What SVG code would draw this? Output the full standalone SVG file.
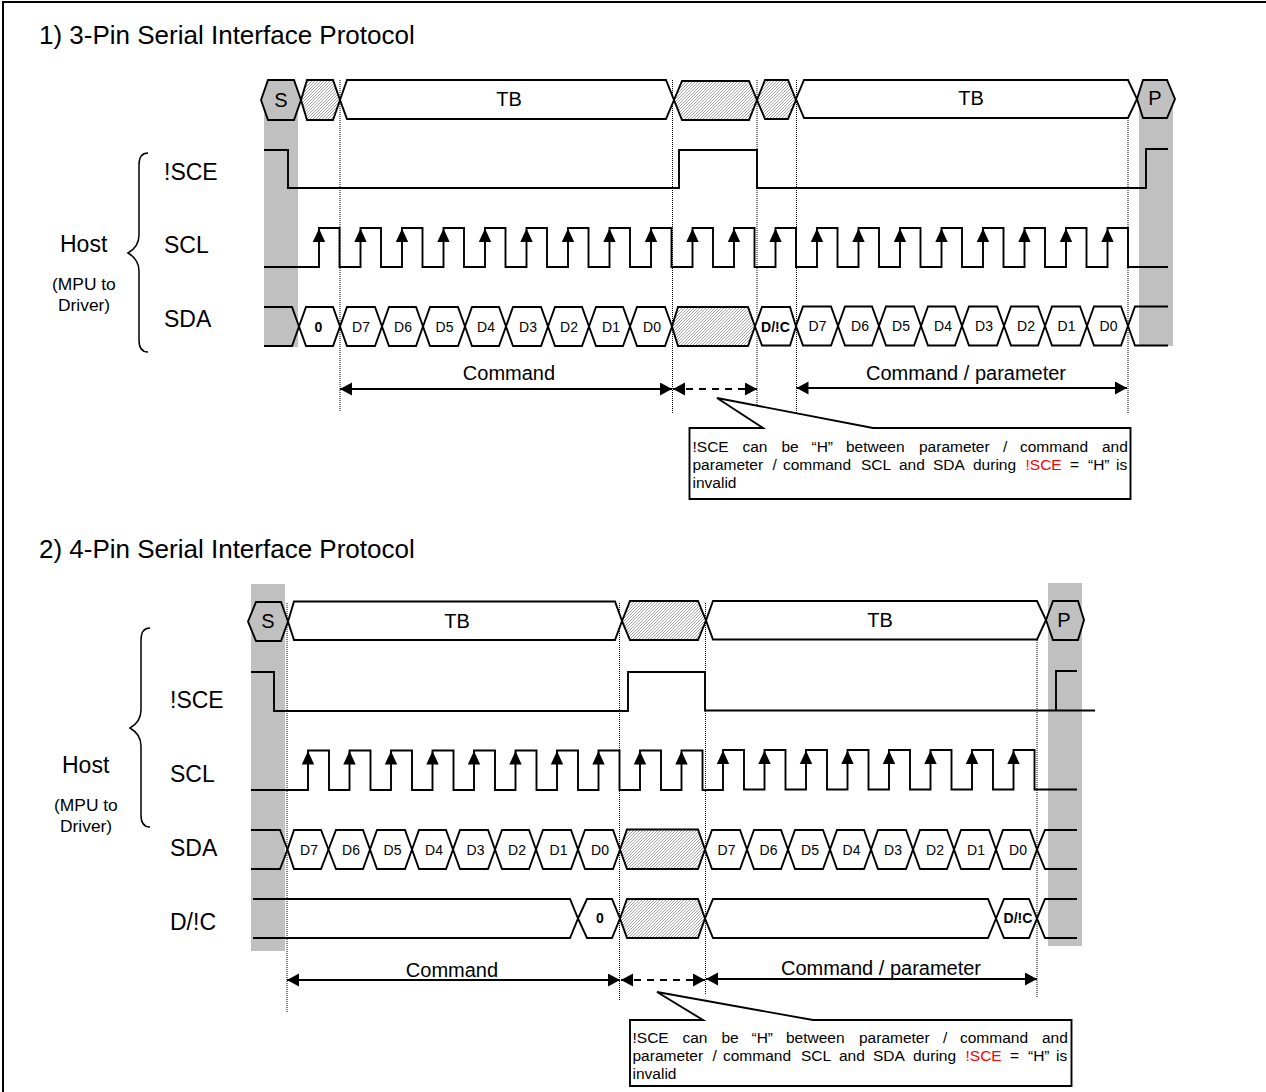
<svg xmlns="http://www.w3.org/2000/svg" xmlns:xlink="http://www.w3.org/1999/xlink" width="1266" height="1092" viewBox="0 0 1266 1092">
<style>
text{font-family:"Liberation Sans",Arial,sans-serif;fill:#000}
.t{font-size:26px}.l{font-size:23px}.m{font-size:20px}.c{font-size:20px}.s{font-size:17.4px}
.d{font-size:14px;text-anchor:middle}.b{font-weight:bold}.mid{text-anchor:middle}
.n{font-size:15.5px}.r{fill:#f00}
.w{fill:#fff;stroke:#000;stroke-width:1.9;stroke-linejoin:miter}
.h{fill:url(#hatch);stroke:#000;stroke-width:1.9}
.g{fill:#c0c0c0;stroke:#000;stroke-width:1.9}
.o{fill:none;stroke:#000;stroke-width:1.9}
.band{fill:#c0c0c0}
.dot{fill:none;stroke:#000;stroke-width:1;stroke-dasharray:1 1}
.arr{fill:none;stroke:#000;stroke-width:1.9;marker-start:url(#ah);marker-end:url(#ah)}
.dash{stroke-dasharray:7 6}
</style>
<defs>
<pattern id="hatch" patternUnits="userSpaceOnUse" width="3" height="3">
<rect width="3" height="3" fill="#fff"/>
<path d="M-1 1L1 -1M0 3L3 0M2 4L4 2" stroke="#a0a0a0" stroke-width="1"/>
</pattern>
<marker id="ah" markerUnits="userSpaceOnUse" markerWidth="13" markerHeight="14" refX="12" refY="6.5" orient="auto-start-reverse">
<path d="M0 0L12 6.5L0 13Z" fill="#000"/>
</marker>
<path id="up" d="M0 0L6.2 13.500H-6.200Z" fill="#000"/>
</defs>
<path id="frame" d="M3 1092V2H1266" fill="none" stroke="#000" stroke-width="2"/>

<g id="bands">
<rect class="band" x="264" y="100" width="34" height="247"/>
<rect class="band" x="1139" y="100" width="34" height="246"/>
<rect class="band" x="251" y="584" width="34" height="367"/>
<rect class="band" x="1048" y="583" width="34" height="363"/>
</g>

<g id="connectors">
<path class="dot" d="M340 80V412M672.500 80V413M757 80V410M796.500 80V413M1128 80V413"/>
<path class="dot" d="M287 603V1012M619.500 603V1000M705.500 603V994M1037 600V998"/>
<line class="arr" x1="340" y1="389" x2="672" y2="389"/>
<line class="arr dash" x1="673" y1="389" x2="757" y2="389"/>
<line class="arr" x1="796.500" y1="388" x2="1127" y2="388"/>
<line class="arr" x1="287" y1="980" x2="620" y2="980"/>
<line class="arr dash" x1="621" y1="980" x2="705" y2="980"/>
<line class="arr" x1="706" y1="979" x2="1037" y2="979"/>
</g>

<g id="title-1"><text class="t" x="39" y="44">1) 3-Pin Serial Interface Protocol</text></g>
<g id="title-2"><text class="t" x="39" y="558">2) 4-Pin Serial Interface Protocol</text></g>

<g id="host-1">
<path class="o" style="stroke-width:1.5" d="M148 153C142 153 139 157 139 165V235C139 244 135 249 128 253C135 257 139 262 139 271V340C139 348 142 352 148 352"/>
<text class="l" x="60" y="252">Host</text>
<text class="s" x="52" y="290">(MPU to</text>
<text class="s" x="58" y="311">Driver)</text>
<text class="l" x="164" y="180">!SCE</text>
<text class="l" x="164" y="253">SCL</text>
<text class="l" x="164" y="327">SDA</text>
</g>
<g id="host-2">
<path class="o" style="stroke-width:1.5" d="M150 628C144 628 141 632 141 640V710C141 719 137 724 130 728C137 732 141 737 141 746V815C141 823 144 827 150 827"/>
<text class="l" x="62" y="773">Host</text>
<text class="s" x="54" y="811">(MPU to</text>
<text class="s" x="60" y="832">Driver)</text>
<text class="l" x="170" y="708">!SCE</text>
<text class="l" x="170" y="782">SCL</text>
<text class="l" x="170" y="856">SDA</text>
<text class="l" x="170" y="930">D/!C</text>
</g>

<g id="bus-1">
<path class="g" d="M261 100L268 80H294L301 100L294 120H268Z"/>
<path class="h" d="M301 100L307 80H333L340 100L333 120H307Z"/>
<path class="w" d="M340 100L347 80H666L674 100L666 119H347Z"/>
<path class="h" d="M674 100L682 81H749L757 100L749 120H682Z"/>
<path class="h" d="M757 100L765 80H788L796 100L788 119H765Z"/>
<path class="w" d="M796 99L804 80H1128L1137 99L1128 118H804Z"/>
<path class="g" d="M1137 99L1143 80H1167L1175 99L1167 118H1143Z"/>
<text class="m mid" x="281" y="107">S</text>
<text class="m mid" x="509" y="106">TB</text>
<text class="m mid" x="971" y="105">TB</text>
<text class="m mid" x="1155" y="105">P</text>
</g>
<g id="sce-1">
<path class="o" d="M264 150H288V188H679V150H757V188H1146V149H1168"/>
</g>
<g id="scl-1">
<path class="o" d="M264 267H319V228H339.500V267H360.500V228H381V267H402V228H422.500V267H443.500V228H464V267H485V228H505.500V267H526.500V228H547V267H568V228H588.500V267H609.500V228H630V267H651V228H671.500V267H692.500V228H713V267H734V228H754.500V267H775.500V228H796V267H817V228H837.500V267H858.500V228H879V267H900V228H920.500V267H941.500V228H962V267H983V228H1003.500V267H1024.500V228H1045V267H1066V228H1086.500V267H1107.500V228H1128V267H1168"/>
<use xlink:href="#up" x="319" y="228.500"/><use xlink:href="#up" x="360.500" y="228.500"/><use xlink:href="#up" x="402" y="228.500"/><use xlink:href="#up" x="443.500" y="228.500"/><use xlink:href="#up" x="485" y="228.500"/><use xlink:href="#up" x="526.500" y="228.500"/><use xlink:href="#up" x="568" y="228.500"/><use xlink:href="#up" x="609.500" y="228.500"/><use xlink:href="#up" x="651" y="228.500"/><use xlink:href="#up" x="692.500" y="228.500"/><use xlink:href="#up" x="734" y="228.500"/><use xlink:href="#up" x="775.500" y="228.500"/><use xlink:href="#up" x="817" y="228.500"/><use xlink:href="#up" x="858.500" y="228.500"/><use xlink:href="#up" x="900" y="228.500"/><use xlink:href="#up" x="941.500" y="228.500"/><use xlink:href="#up" x="983" y="228.500"/><use xlink:href="#up" x="1024.500" y="228.500"/><use xlink:href="#up" x="1066" y="228.500"/><use xlink:href="#up" x="1107.500" y="228.500"/>
</g>
<g id="sda-1">
<path class="o" d="M264 307H292L299 326.500L292 346H264"/>
<path class="w" d="M299 326.500L306 307H333L340 326.500L333 346H306Z"/>
<path class="w" d="M340 326.500L347 307H375L382 326.500L375 346H347Z"/>
<path class="w" d="M382 326.500L389 307H416L423 326.500L416 346H389Z"/>
<path class="w" d="M423 326.500L430 307H458L465 326.500L458 346H430Z"/>
<path class="w" d="M465 326.500L472 307H499L506 326.500L499 346H472Z"/>
<path class="w" d="M506 326.500L513 307H541L548 326.500L541 346H513Z"/>
<path class="w" d="M548 326.500L555 307H582L589 326.500L582 346H555Z"/>
<path class="w" d="M589 326.500L596 307H623L630 326.500L623 346H596Z"/>
<path class="w" d="M630 326.500L637 307H665L672 326.500L665 346H637Z"/>
<path class="h" d="M672 326.500L678 307H748L755 326.500L748 346H678Z"/>
<path class="w" d="M755 326.500L762 307H790L796 326.500L790 345.500H762Z"/>
<path class="w" d="M796 326L803 306.500H831L838 326L831 345.500H803Z"/>
<path class="w" d="M838 326L845 306.500H872L879 326L872 345.500H845Z"/>
<path class="w" d="M879 326L886 306.500H914L921 326L914 345.500H886Z"/>
<path class="w" d="M921 326L928 306.500H955L962 326L955 345.500H928Z"/>
<path class="w" d="M962 326L969 306.500H997L1004 326L997 345.500H969Z"/>
<path class="w" d="M1004 326L1011 306.500H1038L1045 326L1038 345.500H1011Z"/>
<path class="w" d="M1045 326L1052 306.500H1080L1087 326L1080 345.500H1052Z"/>
<path class="w" d="M1087 326L1094 306.500H1121L1128 326L1121 345.500H1094Z"/>
<path class="o" d="M1168 306.500H1135L1128 326L1135 345.500H1168"/>
<text class="d b" x="318.500" y="332">0</text>
<text class="d" x="361" y="332">D7</text><text class="d" x="403" y="332">D6</text><text class="d" x="444.500" y="332">D5</text><text class="d" x="486" y="332">D4</text><text class="d" x="528" y="332">D3</text><text class="d" x="569" y="332">D2</text><text class="d" x="611" y="332">D1</text><text class="d" x="652" y="332">D0</text>
<text class="d b" x="775.500" y="332">D/!C</text>
<text class="d" x="817.500" y="331">D7</text><text class="d" x="860" y="331">D6</text><text class="d" x="901" y="331">D5</text><text class="d" x="943" y="331">D4</text><text class="d" x="984" y="331">D3</text><text class="d" x="1026" y="331">D2</text><text class="d" x="1066.500" y="331">D1</text><text class="d" x="1108.500" y="331">D0</text>
</g>
<g id="labels-1">
<text class="c mid" x="509" y="380">Command</text>
<text class="c mid" x="966" y="380">Command / parameter</text>
</g>
<g id="note-1">
<path class="w" d="M689.500 428H763L717 398L873 428H1130.500V499H689.500Z"/>
<text class="n" y="452"><tspan x="692.500">!SCE</tspan><tspan x="742.500">can</tspan><tspan x="781.500">be</tspan><tspan x="811.500">“H”</tspan><tspan x="846">between</tspan><tspan x="919">parameter</tspan><tspan x="1003">/</tspan><tspan x="1020">command</tspan><tspan x="1102">and</tspan></text>
<text class="n" y="470"><tspan x="692.500">parameter</tspan><tspan x="772.500">/</tspan><tspan x="783">command</tspan><tspan x="861">SCL</tspan><tspan x="899">and</tspan><tspan x="933">SDA</tspan><tspan x="973">during</tspan><tspan class="r" x="1025.500">!SCE</tspan><tspan x="1070">=</tspan><tspan x="1088">“H”</tspan><tspan x="1116">is</tspan></text>
<text class="n" x="692.500" y="488">invalid</text>
</g>

<g id="bus-2">
<path class="g" d="M248 621.500L256 602H281L288 621.500L281 641H256Z"/>
<path class="w" d="M288 621.500L294 601.500H615L622 621L615 640H294Z"/>
<path class="h" d="M622 621L630 601H698L706 620.500L698 640H630Z"/>
<path class="w" d="M706 620.500L713 601H1037L1046 620L1037 639.500H713Z"/>
<path class="g" d="M1046 620L1053 601H1078L1084 620L1078 640H1053Z"/>
<text class="m mid" x="268" y="628">S</text>
<text class="m mid" x="457" y="628">TB</text>
<text class="m mid" x="880" y="627">TB</text>
<text class="m mid" x="1064" y="627">P</text>
</g>
<g id="sce-2">
<path class="o" d="M251 672H274V711H628V672H705V710.500H1095"/>
<path class="o" d="M1056 710.500V671H1077"/>
</g>
<g id="scl-2">
<path class="o" d="M251 790H308V750.500H329V790H349.500V750.500H370.500V790H391V750.500H412V790H432.500V750.500H453.500V790H474V750.500H495V790H515.500V750.500H536.500V790H557V750.500H578V790H598.500V750.500H619.500V790H640V750.500H661V790H681.500V750.500H702.500V790H723V750H744V789.500H764.500V750H785.500V789.500H806V750H827V789.500H847.500V750H868.500V789.500H889V750H910V789.500H930.500V750H951.500V789.500H972V750H993V789.500H1013.500V750H1034.500V789.500H1077"/>
<use xlink:href="#up" x="308" y="751"/><use xlink:href="#up" x="349.500" y="751"/><use xlink:href="#up" x="391" y="751"/><use xlink:href="#up" x="432.500" y="751"/><use xlink:href="#up" x="474" y="751"/><use xlink:href="#up" x="515.500" y="751"/><use xlink:href="#up" x="557" y="751"/><use xlink:href="#up" x="598.500" y="751"/><use xlink:href="#up" x="640" y="751"/><use xlink:href="#up" x="681.500" y="751"/><use xlink:href="#up" x="723" y="750.500"/><use xlink:href="#up" x="764.500" y="750.500"/><use xlink:href="#up" x="806" y="750.500"/><use xlink:href="#up" x="847.500" y="750.500"/><use xlink:href="#up" x="889" y="750.500"/><use xlink:href="#up" x="930.500" y="750.500"/><use xlink:href="#up" x="972" y="750.500"/><use xlink:href="#up" x="1013.500" y="750.500"/>
</g>
<g id="sda-2">
<path class="o" d="M251 830H280L287.500 849.500L280 869H251"/>
<path class="w" d="M287.500 849.500L294 830H321L328.500 849.500L321 869H294Z"/>
<path class="w" d="M328.500 849.500L336 830H363L370 849.500L363 869H336Z"/>
<path class="w" d="M370 849.500L377 830H405L412 849.500L405 869H377Z"/>
<path class="w" d="M412 849.500L419 830H446L453 849.500L446 869H419Z"/>
<path class="w" d="M453 849.500L460 830H488L495 849.500L488 869H460Z"/>
<path class="w" d="M495 849.500L502 830H529L536 849.500L529 869H502Z"/>
<path class="w" d="M536 849.500L543 830H571L578 849.500L571 869H543Z"/>
<path class="w" d="M578 849.500L585 830H613L620 849.500L613 869H585Z"/>
<path class="h" d="M620 849.500L627 829.500H698L705 849.500L698 869H627Z"/>
<path class="w" d="M705 849.500L712 830H740L747 849.500L740 869H712Z"/>
<path class="w" d="M747 849.500L754 830H781L788 849.500L781 869H754Z"/>
<path class="w" d="M788 849.500L795 830H823L830 849.500L823 869H795Z"/>
<path class="w" d="M830 849.500L837 830H864L871 849.500L864 869H837Z"/>
<path class="w" d="M871 849.500L878 830H906L913 849.500L906 869H878Z"/>
<path class="w" d="M913 849.500L920 830H947L954 849.500L947 869H920Z"/>
<path class="w" d="M954 849.500L961 830H989L996 849.500L989 869H961Z"/>
<path class="w" d="M996 849.500L1003 830H1030L1037 849.500L1030 869H1003Z"/>
<path class="o" d="M1077 830H1045L1037 849.500L1045 869H1077"/>
<text class="d" x="309" y="855">D7</text><text class="d" x="351" y="855">D6</text><text class="d" x="392.500" y="855">D5</text><text class="d" x="434" y="855">D4</text><text class="d" x="475.500" y="855">D3</text><text class="d" x="517" y="855">D2</text><text class="d" x="558.500" y="855">D1</text><text class="d" x="600" y="855">D0</text>
<text class="d" x="726.500" y="855">D7</text><text class="d" x="768.500" y="855">D6</text><text class="d" x="810" y="855">D5</text><text class="d" x="851.500" y="855">D4</text><text class="d" x="893" y="855">D3</text><text class="d" x="935" y="855">D2</text><text class="d" x="976" y="855">D1</text><text class="d" x="1018" y="855">D0</text>
</g>
<g id="dc-2">
<path class="o" d="M253 899H570L578 918.500L570 938H253"/>
<path class="w" d="M578 918.500L587 899H612L620 918.500L612 938H587Z"/>
<path class="h" d="M620 918.500L627 899H698L705 918.500L698 938H627Z"/>
<path class="w" d="M705 918.500L713 899H988L996 918.500L988 938H713Z"/>
<path class="w" d="M996 918.500L1004 899H1029L1037 918.500L1029 938H1004Z"/>
<path class="o" d="M1077 899H1045L1037 918.500L1045 938H1077"/>
<text class="d b" x="600" y="923">0</text>
<text class="d b" x="1018" y="923">D/!C</text>
</g>
<g id="labels-2">
<text class="c mid" x="452" y="977">Command</text>
<text class="c mid" x="881" y="975">Command / parameter</text>
</g>
<g id="note-2">
<path class="w" d="M630 1020H703L657 992L813 1020H1071.500V1086H630Z"/>
<text class="n" y="1043"><tspan x="632.500">!SCE</tspan><tspan x="682.500">can</tspan><tspan x="721.500">be</tspan><tspan x="751.500">“H”</tspan><tspan x="786">between</tspan><tspan x="859">parameter</tspan><tspan x="943">/</tspan><tspan x="960">command</tspan><tspan x="1042">and</tspan></text>
<text class="n" y="1061"><tspan x="632.500">parameter</tspan><tspan x="712.500">/</tspan><tspan x="723">command</tspan><tspan x="801">SCL</tspan><tspan x="839">and</tspan><tspan x="873">SDA</tspan><tspan x="913">during</tspan><tspan class="r" x="965.500">!SCE</tspan><tspan x="1010">=</tspan><tspan x="1028">“H”</tspan><tspan x="1056">is</tspan></text>
<text class="n" x="632.500" y="1079">invalid</text>
</g>
</svg>
